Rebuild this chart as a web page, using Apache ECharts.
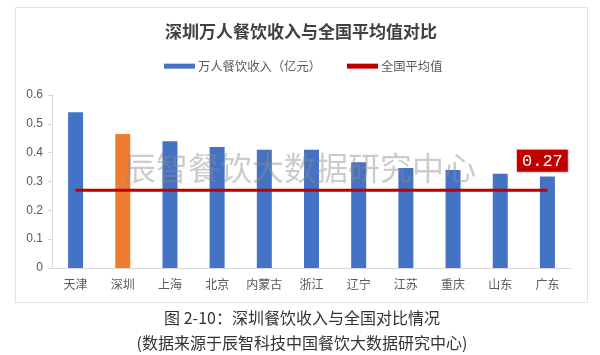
<!DOCTYPE html>
<html>
<head>
<meta charset="utf-8">
<script src="https://cdn.jsdelivr.net/npm/echarts@6/dist/echarts.min.js"></script>
<style>
html,body{margin:0;padding:0;background:#fff;}
#chart{width:600px;height:355px;}
</style>
</head>
<body>
<div id="chart"></div>
<script>
const categories = ['天津','深圳','上海','北京','内蒙古','浙江','辽宁','江苏','重庆','山东','广东'];
const perTenThousandIncome = [0.54, 0.465, 0.44, 0.42, 0.41, 0.41, 0.367, 0.347, 0.34, 0.327, 0.317];
const nationalAverage = [0.27, 0.27, 0.27, 0.27, 0.27, 0.27, 0.27, 0.27, 0.27, 0.27, 0.27];
const highlightCategory = '深圳';
const yTicks = { min: 0, max: 0.6, interval: 0.1 };
const seriesNames = ['万人餐饮收入（亿元）', '全国平均值'];
const titleText = '深圳万人餐饮收入与全国平均值对比';
const captionLine1 = '图 2-10：深圳餐饮收入与全国对比情况';
const captionLine2 = '(数据来源于辰智科技中国餐饮大数据研究中心)';
const watermarkText = '辰智餐饮大数据研究中心';

const BLUE = '#4472C4', ORANGE = '#ED7D31', RED = '#C00000';
const CJK = '"Noto Sans CJK SC", "Noto Sans", sans-serif';

const chart = echarts.init(document.getElementById('chart'), null, {renderer: 'canvas'});
chart.setOption({
  animation: false,
  backgroundColor: '#fff',
  title: {
    text: titleText,
    left: 160, top: 18,
    textStyle: { fontFamily: CJK, fontSize: 17, fontWeight: 'bold', color: '#404040' }
  },
  legend: {
    left: 159, top: 55,
    itemWidth: 31, itemHeight: 5, itemGap: 26,
    textStyle: { fontFamily: CJK, fontSize: 12.3, color: '#595959', padding: [0,0,0,-2] },
    data: [
      { name: seriesNames[0], icon: 'rect', itemStyle: { color: BLUE } },
      { name: seriesNames[1], icon: 'rect', itemStyle: { color: RED } }
    ]
  },
  grid: { left: 52, right: 29, top: 95, bottom: 87, containLabel: false },
  xAxis: {
    type: 'category',
    data: categories,
    axisLine: { show: true, lineStyle: { color: '#D9D9D9', width: 1 } },
    axisTick: { show: false },
    axisLabel: { fontFamily: CJK, fontSize: 12, color: '#595959', margin: 10, interval: 0 }
  },
  yAxis: {
    type: 'value',
    min: yTicks.min, max: yTicks.max, interval: yTicks.interval,
    axisLine: { show: true, lineStyle: { color: '#D9D9D9', width: 1 } },
    axisTick: { show: true, length: 4, lineStyle: { color: '#D9D9D9' } },
    splitLine: { show: false },
    axisLabel: { fontFamily: '"Liberation Sans", Arial, sans-serif', fontSize: 12, color: '#595959', margin: 9,
      formatter: v => (Math.round(v * 10) / 10).toString() }
  },
  series: [
    {
      name: seriesNames[0],
      type: 'bar',
      barWidth: 15,
      data: perTenThousandIncome.map((v, i) => ({
        value: v,
        itemStyle: { color: categories[i] === highlightCategory ? ORANGE : BLUE }
      })),
      itemStyle: { color: BLUE }
    },
    {
      name: seriesNames[1],
      type: 'line',
      symbol: 'circle',
      symbolSize: 1,
      showSymbol: true,
      lineStyle: { color: RED, width: 3 },
      itemStyle: { color: RED },
      z: 5,
      data: nationalAverage.map((v, i) => i === nationalAverage.length - 1 ? {
        value: v,
        label: {
          show: true, position: 'top', distance: 18, offset: [-5, 0],
          formatter: p => p.value.toFixed(2),
          backgroundColor: RED, borderColor: '#f3c9c9', borderWidth: 1,
          color: '#fff', fontFamily: '"Liberation Mono", "DejaVu Sans Mono", monospace', fontSize: 17,
          padding: [3, 5, 2, 5]
        }
      } : v)
    }
  ],
  graphic: [
    { type: 'rect', shape: { x: 15.5, y: 7.5, width: 572, height: 295 }, style: { fill: 'none', stroke: '#E3E3E3', lineWidth: 1 }, z: -10 },
    { type: 'text', x: 124, y: 168, z: 100,
      style: { text: watermarkText, fontFamily: CJK, fontSize: 32, fill: 'rgba(140,140,140,0.45)', textVerticalAlign: 'middle', textAlign: 'left' } },
    { type: 'text', x: 302, y: 318,
      style: { text: captionLine1, fontFamily: CJK, fontSize: 16, fill: '#333', textAlign: 'center', textVerticalAlign: 'middle' } },
    { type: 'text', x: 302, y: 343,
      style: { text: captionLine2, fontFamily: CJK, fontSize: 16, fill: '#333', textAlign: 'center', textVerticalAlign: 'middle' } }
  ]
});
</script>
</body>
</html>
